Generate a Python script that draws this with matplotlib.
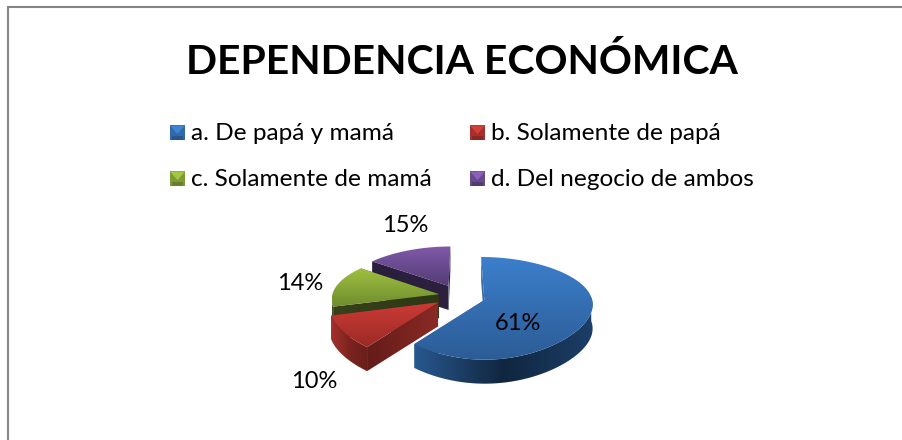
import numpy as np
from matplotlib import pyplot as plt
from matplotlib.colors import LinearSegmentedColormap
from matplotlib.patches import Polygon

plt.rcParams['font.family'] = ['Lato', 'DejaVu Sans']

titulo = 'DEPENDENCIA ECONÓMICA'
categorias = ['a. De papá y mamá', 'b. Solamente de papá', 'c. Solamente de mamá', 'd. Del negocio de ambos']
valores = [61, 10, 14, 15]

# colores: cara superior (arriba, abajo), pared curva (3), pared recta
cara = [('#3c7fcc', '#2c5c96'), ('#cc3b36', '#9c2a26'), ('#9fc040', '#6f8c2e'), ('#8059aa', '#533c74')]
curva = [('#28588f', '#10263f', '#1c3e68'), ('#a5302b', '#7c2420', '#6b1f1b'),
         ('#3f4c1c', '#37411a', '#37411a'), ('#2e2140', '#2e2140', '#2e2140')]
recta = [('#3569a8', '#3569a8'), ('#651c19', '#8a2a25'), ('#37411a', '#2e3716'), ('#2a1e3d', '#2e2140')]
leyenda = [('#3f83d2', '#2f69aa', '#1f4a7a'), ('#d0403a', '#a8302c', '#76201d'),
           ('#a4c644', '#7f9c34', '#586e22'), ('#8a63b6', '#664a8c', '#453260')]

# geometria en pixeles
cx, cy = 460, 296
rx, ry, k = 107, 48.7, 0.16
separacion = [0.24, 0.24, 0.20, 0.24]
alto = 24

fig = plt.figure(figsize=(9.03, 4.40), dpi=100)
ax = fig.add_axes([0, 0, 1, 1])
ax.set_xlim(0, 903)
ax.set_ylim(440, 0)
ax.axis('off')


def proyecta(x, y):
    w = 1 / (1 + k * y)
    wx = 1 / (1 + 0.095 * y + 0.065 * y * y)
    return cx + rx * x * wx, cy - ry * y * w


def degradado(puntos, colores, vertical=True, z=2):
    puntos = np.array(puntos)
    cmap = LinearSegmentedColormap.from_list('c', colores)
    g = np.linspace(0, 1, 128)
    g = g.reshape(-1, 1) if vertical else g.reshape(1, -1)
    x0, y0 = puntos.min(axis=0)
    x1, y1 = puntos.max(axis=0)
    im = ax.imshow(g, cmap=cmap, extent=(x0, x1 + 0.01, y1 + 0.01, y0), aspect='auto', zorder=z, vmin=0, vmax=1)
    p = Polygon(puntos, closed=True, facecolor='none', edgecolor='none', transform=ax.transData)
    ax.add_patch(p)
    im.set_clip_path(p)


def rebanada(inicio, fin, i):
    z = 2 + (3 - i) * 0.1
    medio = np.radians((inicio + fin) / 2)
    ox, oy = separacion[i] * np.sin(medio), separacion[i] * np.cos(medio)
    t = np.radians(np.linspace(inicio, fin, 100))
    borde = [proyecta(ox + np.sin(a), oy + np.cos(a)) for a in t]
    centro = proyecta(ox, oy)
    # paredes rectas
    for extremo in (borde[-1], borde[0]):
        quad = [centro, extremo, (extremo[0], extremo[1] + alto), (centro[0], centro[1] + alto)]
        degradado(quad, recta[i], vertical=False, z=z)
    # pared curva, solo la parte que mira al frente
    visible = [b for a, b in zip(t, borde) if oy + np.cos(a) < 0]
    if len(visible) > 1:
        abajo = [(x, y + alto) for x, y in visible]
        degradado(visible + abajo[::-1], curva[i], vertical=False, z=z + 0.01)
    # cara superior
    degradado([centro] + borde, cara[i], z=z + 0.02)


orden = np.cumsum([0] + valores) * 3.6
for i in [3, 2, 1, 0]:
    rebanada(orden[i], orden[i + 1], i)

# etiquetas de datos
pos_etiquetas = [(518, 324), (314, 382), (300, 284), (405, 226)]
for v, (x, y) in zip(valores, pos_etiquetas):
    ax.text(x, y, '%d%%' % v, fontsize=17, color='black', ha='center', va='center', zorder=5)

# titulo
ax.text(462, 62, titulo, fontsize=29.4, fontweight='bold', color='black', ha='center', va='center')

# leyenda
pos_leyenda = [(170, 133), (470, 133), (170, 179), (470, 179)]
for nombre, col, (x, y) in zip(categorias, leyenda, pos_leyenda):
    s = 7.5
    x0, x1, y0, y1 = x, x + 2 * s, y - s, y + s
    xc = x + s
    ax.add_patch(Polygon([(x0, y0), (x1, y0), (x1, y1), (x0, y1)], facecolor=col[1], edgecolor='none'))
    ax.add_patch(Polygon([(x0, y0), (x1, y0), (xc, y + 1)], facecolor=col[0], edgecolor='none'))
    ax.add_patch(Polygon([(x0 + 2, y1), (x1 - 2, y1), (x1 - 2, y1 - 4), (x0 + 2, y1 - 4)], facecolor=col[2], edgecolor='none', alpha=0.6))
    ax.text(x + 21, y + 1, nombre, fontsize=17.6, color='black', ha='left', va='center')

# borde del grafico
ax.plot([8.5, 8.5, 903], [440, 7, 7], color='#868686', lw=1.5, solid_joinstyle='miter', clip_on=False)

fig.savefig('out.png', dpi=100)
